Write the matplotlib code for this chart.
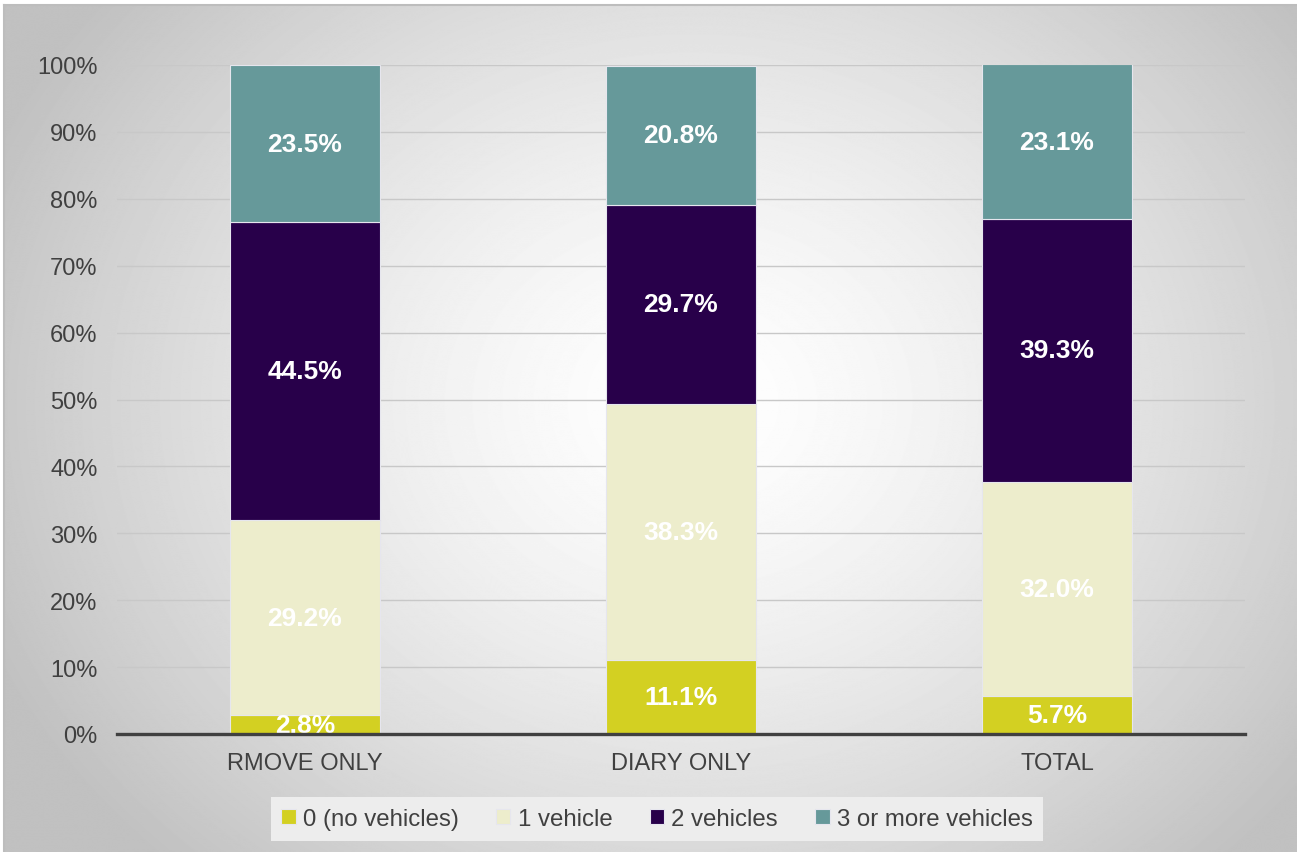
import matplotlib
matplotlib.use("Agg")
import matplotlib.pyplot as plt
import numpy as np
from matplotlib.lines import Line2D
from matplotlib.patches import Patch

plt.rcParams["font.family"] = ["Liberation Sans", "DejaVu Sans"]

# household vehicle ownership by survey method (shares, %)
categories = ["RMOVE ONLY", "DIARY ONLY", "TOTAL"]
series_names = ["0 (no vehicles)", "1 vehicle", "2 vehicles", "3 or more vehicles"]
no_vehicles = [2.8, 11.1, 5.7]
one_vehicle = [29.2, 38.3, 32.0]
two_vehicles = [44.5, 29.7, 39.3]
three_plus = [23.5, 20.8, 23.1]
y_ticks = [0, 10, 20, 30, 40, 50, 60, 70, 80, 90, 100]

colors = ["#D3D022", "#EDEDCC", "#28004A", "#66999A"]

W, H = 1297, 853
fig = plt.figure(figsize=(W / 100, H / 100), dpi=100)
fig.patch.set_facecolor("white")

# soft radial background behind the whole chart
bg_left, bg_top = 4 / W, 6 / H
bg = fig.add_axes([bg_left, 0, 1 - bg_left, 1 - bg_top], zorder=-10)
yy, xx = np.mgrid[0:H, 0:W]
r = np.sqrt(((xx - 690) / 760) ** 2 + ((yy - 400) / 640) ** 2)
shade = 255 - 62 * np.clip(r, 0, 1) ** 1.4
bg.imshow(shade, cmap="gray", vmin=0, vmax=255, aspect="auto", interpolation="bilinear")
bg.set_axis_off()
# thin frame on the left and top edges only
for xs, ys in [([bg_left, bg_left], [0, 1 - bg_top]), ([bg_left, 1], [1 - bg_top, 1 - bg_top])]:
    fig.lines.append(Line2D(xs, ys, transform=fig.transFigure, color="#BDBDBD",
                            linewidth=1.5, zorder=-5))

ax = fig.add_axes([117 / W, 1 - 735 / H, (1245 - 117) / W, (735 - 66) / H])
ax.patch.set_alpha(0)

x = np.arange(len(categories))
stack = [no_vehicles, one_vehicle, two_vehicles, three_plus]
bottom = np.zeros(len(categories))
for vals, name, col in zip(stack, series_names, colors):
    vals = np.array(vals)
    ax.bar(x, vals, width=0.4, bottom=bottom, color=col, label=name,
           edgecolor="#E6E6EE", linewidth=0.8, zorder=3)
    for xi, b, v in zip(x, bottom, vals):
        ax.text(xi, b + v / 2, f"{v:.1f}%", ha="center", va="center",
                color="white", fontsize=19, fontweight="bold", zorder=5)
    bottom += vals

ax.set_xlim(-0.5, 2.5)
ax.set_ylim(0, 100)
ax.set_yticks(y_ticks)
ax.set_yticklabels([f"{t}%" for t in y_ticks])
ax.set_xticks(x)
ax.set_xticklabels(categories)
ax.tick_params(axis="both", length=0, labelsize=17, colors="#404040")
ax.tick_params(axis="y", pad=14)
ax.tick_params(axis="x", pad=13)
ax.yaxis.grid(True, color="#C8C8C8", linewidth=1)
ax.set_axisbelow(True)
for side in ["left", "right", "top"]:
    ax.spines[side].set_visible(False)
ax.spines["bottom"].set_color("#404040")
ax.spines["bottom"].set_linewidth(2.4)
ax.spines["bottom"].set_zorder(6)

handles = [Patch(facecolor=c, edgecolor="#E6E6EE", linewidth=0.8) for c in colors]
leg = fig.legend(handles, series_names, loc="center", bbox_to_anchor=(657 / W, 1 - 820 / H),
                 ncol=4, frameon=True, fontsize=17.3, handlelength=0.6, handleheight=0.6,
                 handletextpad=0.3, columnspacing=1.55, borderpad=0.45, fancybox=False)
leg.get_frame().set_facecolor("#EDEDED")
leg.get_frame().set_edgecolor("none")
leg.get_frame().set_alpha(1)
for t in leg.get_texts():
    t.set_color("#404040")

fig.savefig("out.png", dpi=100)
